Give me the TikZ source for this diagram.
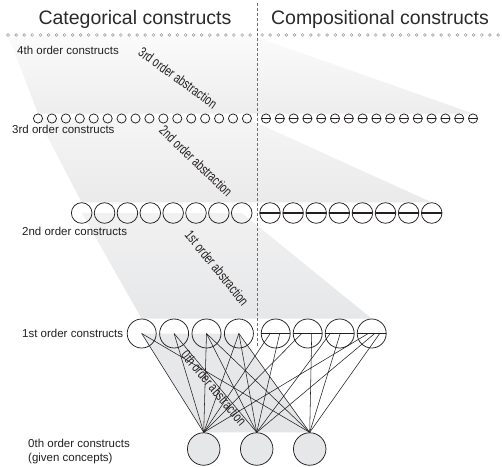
\documentclass[tikz,border=0pt]{standalone}
\usepackage{fontspec}
\setmainfont{Liberation Sans}
\newfontfamily\condfont[FakeStretch=0.72]{Liberation Sans}
\usetikzlibrary{backgrounds}
\definecolor{inkc}{HTML}{231F20}
\definecolor{titlec}{HTML}{2B2B2B}
\definecolor{dashc}{HTML}{6D6E71}
\definecolor{conceptc}{HTML}{E6E7E8}
\definecolor{aTop}{HTML}{FBFBFB}\definecolor{aBot}{HTML}{EDEDEE}
\definecolor{bTop}{HTML}{F5F5F6}\definecolor{bBot}{HTML}{EAEAEB}
\definecolor{cTop}{HTML}{F1F1F2}\definecolor{cBot}{HTML}{E6E7E8}
\definecolor{dTop}{HTML}{E8E9EA}\definecolor{dBot}{HTML}{E4E5E6}
\begin{document}
\begin{tikzpicture}[x=1pt,y=-1pt,
  catnode/.style={circle,draw=inkc,line width=0.75pt,inner sep=0pt,minimum size=#1},
  compnode/.style 2 args={catnode=#1,path picture={\draw[inkc,line width=#2] (path picture bounding box.west) -- (path picture bounding box.east);}},
  dotnode/.style={circle,draw=gray!80,line width=0.5pt,fill=white,inner sep=0pt,minimum size=2.8pt},
  conceptnode/.style={circle,draw=inkc,line width=0.75pt,fill=conceptc,inner sep=0pt,minimum size=32.5pt},
  link/.style={draw=inkc,line width=0.55pt},
  levellabel/.style={font=\fontsize{11.5}{13}\selectfont,text=inkc,inner sep=0pt,anchor=base west},
  abstrlabel/.style={font=\condfont\fontsize{14}{16}\selectfont,text=inkc,inner sep=0pt},
  titlelabel/.style={font=\fontsize{19.5}{22}\selectfont,text=titlec,inner sep=0pt,anchor=base},
  divider/.style={draw=dashc,line width=0.7pt,dash pattern=on 3pt off 2pt}
]
\useasboundingbox (0,0) rectangle (502,466);

% titles
\node[titlelabel] (tcat) at (135,24.5) {Categorical constructs};
\node[titlelabel] (tcomp) at (380,24.5) {Compositional constructs};

% 4th order row (dots)
\foreach \i in {0,...,30} \node[dotnode] (r4l\i) at ({8+8.07*\i},35) {};
\foreach \i in {0,...,29} \node[dotnode] (r4r\i) at ({262+8.14*\i},35) {};

% 3rd order row
\foreach \i in {0,...,15} \node[catnode=9.2pt] (r3l\i) at ({38+13.93*\i},118.5) {};
\foreach \i in {0,...,15} \node[compnode={9.2pt}{0.8pt}] (r3r\i) at ({266+13.8*\i},118.5) {};

% 2nd order row
\foreach \i in {0,...,7} \node[catnode=20.6pt] (r2l\i) at ({81.7+22.86*\i},213) {};
\foreach \i in {0,...,7} \node[compnode={20.6pt}{1.1pt}] (r2r\i) at ({270+23.1*\i},213) {};

% 1st order row
\foreach \i in {0,...,3} \node[catnode=29pt] (r1l\i) at ({141.7+32.4*\i},333.5) {};
\foreach \i in {0,...,3} \node[compnode={29pt}{1.8pt}] (r1r\i) at ({275.7+32*\i},333.5) {};

% 0th order row
\node[conceptnode] (b1) at (203.7,449) {};
\node[conceptnode] (b2) at (256.7,449) {};
\node[conceptnode] (b3) at (309.7,449) {};

% divider
\coordinate (dtop) at (257,3);
\coordinate (dbot) at (257,346);
\draw[divider] (dtop) -- (dbot);

% shaded abstraction regions
\begin{scope}[on background layer]
  \fill[white] (0,0) rectangle (502,466);
  \shade[top color=aTop,bottom color=aBot] (r4l0.center) -- (r4l30.center) -- (r3r15.north) -- (r3l0.north) -- cycle;
  \shade[top color=bTop,bottom color=bBot] (r3l0.center) -- (r3l15.center) -- (r2r7.north) -- (r2l0.north) -- cycle;
  \shade[top color=cTop,bottom color=cBot] (r2l0.center) -- (r2l7.center) -- (r1r3.north) -- (r1l0.north) -- cycle;
  \shade[top color=dTop,bottom color=dBot] (r1l0.center) -- (r1l3.center) -- (b3.north) -- (b1.north) -- cycle;
\end{scope}

% links: categorical 1st order constructs
\draw[link] (r1l0.center) -- (b1.north);
\draw[link] (r1l0.center) -- (b3.north);
\draw[link] (r1l1.center) -- (b1.north);
\draw[link] (r1l1.center) -- (b2.north);
\draw[link] (r1l2.center) -- (b1.north);
\draw[link] (r1l2.center) -- (b2.north);
\draw[link] (r1l2.center) -- (b3.north);
\draw[link] (r1l3.center) -- (b1.north);
\draw[link] (r1l3.center) -- (b2.north);
\draw[link] (r1l3.center) -- (b3.north);
% links: compositional 1st order constructs
\draw[link] ([xshift=-5.5pt]r1r0.center) -- (b1.north);
\draw[link] ([xshift=4pt]r1r0.center) -- (b2.north);
\draw[link] ([xshift=-6pt]r1r1.center) -- (b1.north);
\draw[link] ([xshift=4pt]r1r1.center) -- (b3.north);
\draw[link] ([xshift=-9.5pt]r1r2.center) -- (b2.north);
\draw[link] ([xshift=0.5pt]r1r2.center) -- (b3.north);
\draw[link] ([xshift=-3.5pt]r1r3.center) -- (b1.north);
\draw[link] ([xshift=3pt]r1r3.center) -- (b2.north);
\draw[link] ([xshift=8pt]r1r3.center) -- (b3.north);

% level labels
\node[levellabel] (l4) at (17,54) {4th order constructs};
\node[levellabel] (l3) at (12,133.5) {3rd order constructs};
\node[levellabel] (l2) at (22,235.5) {2nd order constructs};
\node[levellabel] (l1) at (22,337) {1st order constructs};
\node[levellabel] (l0) at (28,447) {0th order constructs};
\node[levellabel] (l0b) at (28,461) {(given concepts)};

% abstraction labels
\node[abstrlabel,rotate=-36] (a3) at (178,78) {3rd order abstraction};
\node[abstrlabel,rotate=-44] (a2) at (196,161) {2nd order abstraction};
\node[abstrlabel,rotate=-51] (a1) at (217,268) {1st order abstraction};
\node[abstrlabel,rotate=-50] (a0) at (214,388) {0th order abstraction};
\end{tikzpicture}
\end{document}
